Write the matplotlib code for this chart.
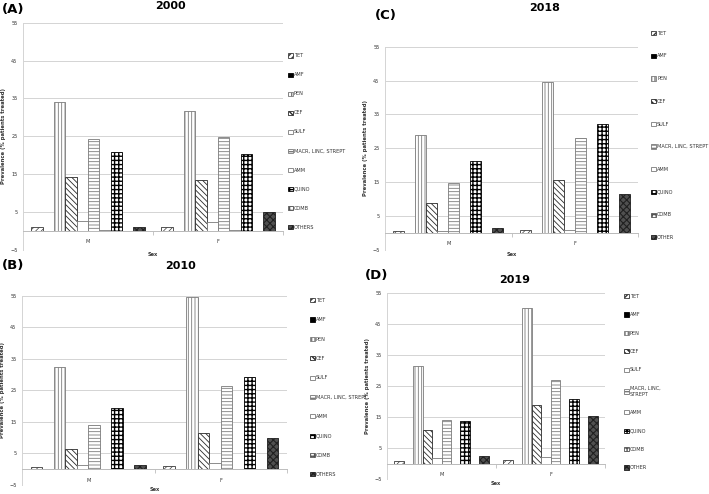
"""
Antibiotic prevalence by sex, four survey years (2000, 2010, 2018, 2019).
"""

import matplotlib.pyplot as plt
import numpy as np


SEXES = ["M", "F"]

CLASSES = ["TET", "AMF", "PEN", "CEF", "SULF", "MACR, LINC, STREPT",
           "AMM", "QUINO", "COMB", "OTHERS"]

# values per class, [M, F]
Y2000 = [[1.2, 1.0], [0, 0], [34.1, 31.8], [14.2, 13.5], [2.6, 2.3],
         [24.4, 24.7], [0.4, 0.3], [21.0, 20.4], [0, 0], [1.2, 5.1]]
Y2010 = [[0.7, 1.1], [0, 0], [32.3, 54.5], [6.3, 11.4], [1.4, 2.1],
         [13.9, 26.4], [0.2, 0.2], [19.4, 29.3], [0, 0], [1.2, 9.9]]
Y2018 = [[0.5, 0.9], [0, 0], [28.8, 44.6], [8.8, 15.8], [0.7, 0.9],
         [14.7, 28.1], [0, 0], [21.4, 32.3], [0, 0], [1.4, 11.6]]
Y2019 = [[0.9, 1.1], [0, 0], [31.5, 50.2], [11.0, 18.8], [1.9, 2.1],
         [14.1, 26.9], [0, 0], [13.7, 20.9], [0, 0], [2.4, 15.5]]

Y_TICKS = [-5, 5, 15, 25, 35, 45, 55]

# face, edge, hatch, hatch linewidth
STYLES = [
    ("white", "#3a3a3a", "//////", 0.5),
    ("black", "black", None, 0.5),
    ("white", "#7a7a7a", "|||||", 0.6),
    ("white", "#2a2a2a", "\\\\\\\\\\\\", 0.6),
    ("white", "#7a7a7a", None, 0.5),
    ("white", "#7a7a7a", "-----", 0.6),
    ("white", "#7a7a7a", None, 0.5),
    ("white", "black", "++++", 1.0),
    ("white", "#555555", "++++", 0.6),
    ("#505050", "#202020", "xxxxx", 0.8),
]

W, H = 709, 494


def px_axes(fig, left, right, top, bottom):
    return fig.add_axes([left / W, 1 - bottom / H,
                         (right - left) / W, (bottom - top) / H])


def draw_panel(fig, box, data, title, tag, title_xy, tag_xy, sex_y,
               leg_xy, labelspacing, labels):
    ax = px_axes(fig, *box)
    x = np.arange(len(SEXES))
    width = 0.087
    handles = []
    for i, vals in enumerate(data):
        face, edge, hatch, hlw = STYLES[i]
        with plt.rc_context({"hatch.linewidth": hlw}):
            bars = ax.bar(x + (i - 4.5) * width, vals, width, color=face,
                          edgecolor=edge, hatch=hatch, linewidth=0.6,
                          zorder=3)
        handles.append(bars)

    ax.set_xlim(-0.5, 1.5)
    ax.set_ylim(-5, 55)
    ax.set_yticks(Y_TICKS)
    ax.tick_params(axis="y", labelsize=3.6, length=0, pad=4,
                   labelcolor="#333333")
    ax.grid(axis="y", color="#d4d4d4", linewidth=0.7, zorder=0)
    for s in ["top", "right"]:
        ax.spines[s].set_visible(False)
    ax.spines["left"].set_color("#d4d4d4")
    ax.spines["left"].set_linewidth(0.7)
    ax.spines["bottom"].set_position(("data", 0))
    ax.spines["bottom"].set_color("#bdbdbd")
    ax.spines["bottom"].set_linewidth(0.7)
    ax.spines["bottom"].set_zorder(4)
    ax.set_xticks(x)
    ax.set_xticklabels(SEXES)
    ax.set_xticks([-0.5, 0.5, 1.5], minor=True)
    ax.tick_params(axis="x", which="major", length=0, labelsize=3.6,
                   pad=6, labelcolor="#333333")
    ax.tick_params(axis="x", which="minor", length=3, width=0.6,
                   color="#bdbdbd", direction="out")

    ax.text(0.5, 1 - (sex_y - box[2]) / (box[3] - box[2]), "Sex",
            transform=ax.transAxes, ha="center", va="center", fontsize=3.6,
            fontweight="bold", color="#333333")
    ax.set_ylabel("Prevalence (% patients treated)", fontsize=3.8,
                  fontweight="bold", color="#333333", labelpad=3)

    fig.text(title_xy[0] / W, 1 - title_xy[1] / H, title, ha="center",
             va="center", fontsize=8, fontweight="bold")
    fig.text(tag_xy[0] / W, 1 - tag_xy[1] / H, tag, ha="left",
             va="center", fontsize=9.5, fontweight="bold")

    ax.legend(handles, labels, loc="center left",
              bbox_to_anchor=(leg_xy[0] / W, 1 - leg_xy[1] / H),
              bbox_transform=fig.transFigure, frameon=False, fontsize=3.6,
              labelspacing=labelspacing, handlelength=0.9, handleheight=0.9,
              handletextpad=0.3, borderpad=0, borderaxespad=0,
              labelcolor="#333333")
    return ax


def main() -> None:
    fig = plt.figure(figsize=(W / 100, H / 100), dpi=100)

    labels_a = CLASSES
    labels_c = CLASSES[:-1] + ["OTHER"]
    labels_d = CLASSES[:5] + ["MACR, LINC,\nSTREPT"] + CLASSES[6:-1] + ["OTHER"]

    draw_panel(fig, (23, 283, 22.7, 250), Y2000, "2000", "(A)",
               (170, 6), (2, 9), 255, (288, 141.5), 2.81, labels_a)
    draw_panel(fig, (22, 287, 295.7, 485), Y2010, "2010", "(B)",
               (180, 266), (2, 265), 489, (310, 387.5), 2.87, labels_a)
    draw_panel(fig, (385, 638, 46.7, 250), Y2018, "2018", "(C)",
               (545, 8), (375, 15), 255, (651, 135.4), 3.54, labels_c)
    draw_panel(fig, (387, 605, 292.7, 479.3), Y2019, "2019", "(D)",
               (515, 280), (365, 275), 483, (624, 382), 2.68, labels_d)

    fig.savefig("out.png", dpi=100)


if __name__ == "__main__":
    main()
